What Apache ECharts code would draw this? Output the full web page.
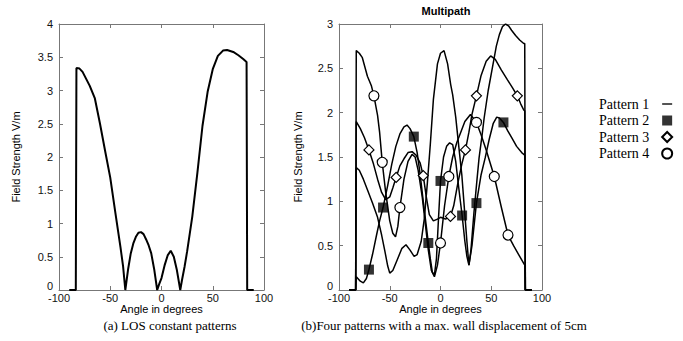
<!DOCTYPE html>
<html>
<head>
<meta charset="utf-8">
<script src="https://cdn.jsdelivr.net/npm/echarts@6/dist/echarts.min.js"></script>
<style>
html,body{margin:0;padding:0;background:#fff;}
#chart{width:683px;height:341px;}
</style>
</head>
<body>
<div id="chart"></div>
<script>
// ---- (a) LOS constant pattern ----
const losAngle = [-90, -83.6, -83, -80, -77, -74, -70, -65, -60, -55, -50, -45, -40, -37.5, -35.3, -32.5, -30, -27.5, -25, -22.5, -20, -17.5, -15, -12.5, -10, -7, -4.2, -2, 0, 3, 6, 9, 12, 15, 18.3, 20, 22.5, 25, 30, 35, 40, 45, 50, 55, 60, 64, 70, 75, 80, 83, 83.6, 90];
const losField = [0, 0, 3.34, 3.33, 3.28, 3.19, 3.07, 2.88, 2.5, 2.09, 1.69, 1.16, 0.64, 0.36, 0, 0.32, 0.55, 0.7, 0.8, 0.86, 0.87, 0.84, 0.76, 0.67, 0.55, 0.3, 0, 0.1, 0.18, 0.37, 0.52, 0.59, 0.5, 0.3, 0, 0.15, 0.35, 0.58, 1.1, 1.76, 2.47, 2.98, 3.32, 3.52, 3.6, 3.61, 3.58, 3.53, 3.47, 3.43, 0, 0];

// ---- (b) Multipath patterns ----
const p1Angle = [-90, -83.6, -83, -80, -76, -72, -67, -62, -58, -55, -52, -50, -47, -43, -38, -34, -30, -26, -23, -19, -16, -13, -10, -7, -3, 0, 3.5, 7, 10, 12, 15, 18, 21, 24, 26, 28, 30, 33, 36, 38, 41, 43, 47, 51, 55, 58, 61, 64, 67, 70, 74, 78, 82, 83, 83.6, 90];
const p1Field = [0, 0, 1.38, 1.35, 1.25, 1.13, 0.98, 0.82, 0.62, 0.45, 0.27, 0.19, 0.22, 0.33, 0.47, 0.51, 0.45, 0.38, 0.4, 0.55, 0.8, 1.2, 1.65, 2.15, 2.55, 2.67, 2.7, 2.55, 2.32, 2.2, 1.95, 1.62, 1.3, 0.85, 0.55, 0.28, 0.45, 0.88, 1.25, 1.49, 1.75, 1.94, 2.25, 2.5, 2.75, 2.88, 2.97, 3.0, 2.98, 2.93, 2.87, 2.82, 2.78, 2.78, 0, 0];

const p2Angle = [-90, -83.6, -83, -79, -76, -73, -70.5, -67, -63, -60, -56.6, -52, -48, -44, -40, -36, -33, -30, -26.3, -23, -20, -17, -14, -12, -10, -8, -6, -4, -2, 0, 3, 6, 9, 12, 15, 18, 21.3, 24, 26, 28, 31, 35.4, 40, 44, 48, 52, 55.4, 58, 62, 66, 70, 75, 80, 83, 83.6, 90];
const p2Field = [0, 0, 0.15, 0.1, 0.08, 0.13, 0.23, 0.4, 0.62, 0.78, 0.93, 1.18, 1.42, 1.62, 1.76, 1.84, 1.86, 1.82, 1.73, 1.55, 1.3, 1.0, 0.72, 0.53, 0.35, 0.2, 0.17, 0.35, 0.8, 1.23, 1.5, 1.62, 1.66, 1.64, 1.45, 1.15, 0.84, 0.55, 0.38, 0.28, 0.5, 0.98, 1.3, 1.49, 1.7, 1.88, 1.95, 1.94, 1.89, 1.8, 1.72, 1.62, 1.55, 1.52, 0, 0];
const p2MarkAngle = [-70.5, -56.6, -26.3, -12, 0, 21.3, 35.4, 62];
const p2MarkField = [0.23, 0.93, 1.73, 0.53, 1.23, 0.84, 0.98, 1.89];

const p3Angle = [-90, -83.6, -83, -79, -75, -70.5, -66, -62, -58, -54, -50, -47, -43.7, -40, -36, -32, -28, -24, -20, -17, -14, -11, -7, -3, 0, 5, 9.8, 13, 17, 21, 24.6, 28, 31, 35.4, 40, 45, 49.4, 54, 60, 66, 71, 75.7, 79, 82, 83, 83.6, 90];
const p3Field = [0, 0, 1.9, 1.82, 1.72, 1.58, 1.42, 1.25, 1.1, 1.02, 1.05, 1.15, 1.27, 1.4, 1.48, 1.55, 1.56, 1.52, 1.43, 1.29, 1.05, 0.85, 0.78, 0.8, 0.82, 0.8, 0.83, 0.95, 1.2, 1.42, 1.58, 1.78, 1.98, 2.19, 2.42, 2.58, 2.64, 2.6, 2.48, 2.37, 2.28, 2.19, 2.1, 2.03, 2.02, 0, 0];
const p3MarkAngle = [-70.5, -43.7, -17, 9.8, 24.6, 35.4, 75.7];
const p3MarkField = [1.58, 1.27, 1.29, 0.83, 1.58, 2.19, 2.19];

const p4Angle = [-90, -83.6, -83, -80, -77, -72, -68, -65.6, -62, -60, -57.4, -54, -50, -47, -44.3, -42, -40, -36, -32, -28, -25, -22, -18, -15, -12, -9, -6, -3, 0, 4, 8.2, 12, 16, 19.7, 24, 29.5, 35.4, 40, 45, 53, 60, 66.5, 72, 77, 82, 83, 83.6, 90];
const p4Field = [0, 0, 2.7, 2.67, 2.62, 2.41, 2.3, 2.19, 1.97, 1.78, 1.44, 1.1, 0.78, 0.64, 0.6, 0.72, 0.93, 1.25, 1.45, 1.53, 1.5, 1.35, 1.05, 0.75, 0.45, 0.22, 0.15, 0.28, 0.53, 0.95, 1.28, 1.5, 1.66, 1.77, 1.9, 1.98, 1.89, 1.75, 1.58, 1.28, 0.93, 0.62, 0.5, 0.4, 0.3, 0.28, 0, 0];
const p4MarkAngle = [-65.6, -57.4, -40, 0, 8.2, 35.4, 53, 66.5];
const p4MarkField = [2.19, 1.44, 0.93, 0.53, 1.28, 1.89, 1.28, 0.62];

const xTicks = {min: -100, max: 100, interval: 50};
const yTicksA = {min: 0, max: 4, interval: 0.5};
const yTicksB = {min: 0, max: 3, interval: 0.5};

const legendNames = ['Pattern 1', 'Pattern 2', 'Pattern 3', 'Pattern 4'];
const axisName = 'Angle in degrees';
const yName = 'Field Strength V/m';

function zip(a, b) { return a.map((v, i) => [v, b[i]]); }

const sans = 'Liberation Sans, Arial, sans-serif';
const serif = 'Liberation Serif, Times New Roman, serif';
const axisColor = '#777';

function xAx(grid, pos, showLabel) {
  return {
    type: 'value', gridIndex: grid, position: pos,
    min: xTicks.min, max: xTicks.max, interval: xTicks.interval,
    axisLine: {show: true, onZero: false, lineStyle: {color: axisColor, width: 1}},
    axisTick: {show: true, inside: true, length: 4, lineStyle: {color: axisColor}},
    axisLabel: {show: showLabel, margin: 2, fontSize: 11, lineHeight: 11, fontFamily: sans, color: '#111'},
    splitLine: {show: false},
    name: showLabel ? axisName : '', nameLocation: 'middle', nameGap: 13, nameMoveOverlap: false,
    nameTextStyle: {fontSize: 11, fontFamily: sans, color: '#000', lineHeight: 11}
  };
}
function yAx(grid, pos, showLabel, t, gap) {
  return {
    type: 'value', gridIndex: grid, position: pos,
    min: t.min, max: t.max, interval: t.interval,
    axisLine: {show: true, onZero: false, lineStyle: {color: axisColor, width: 1}},
    axisTick: {show: true, inside: true, length: 4, lineStyle: {color: axisColor}},
    axisLabel: {show: showLabel, margin: 6, fontSize: 11, fontFamily: sans, color: '#111',
      formatter: v => (v === 0 ? '{z|0}' : String(v)),
      rich: {z: {fontSize: 11, fontFamily: sans, color: '#111', padding: [0, 0, 8, 0]}}},
    splitLine: {show: false},
    name: showLabel ? yName : '', nameLocation: 'middle', nameGap: gap, nameMoveOverlap: false,
    nameTextStyle: {fontSize: 11, fontFamily: sans, color: '#000'}
  };
}

const lineBase = {type: 'line', showSymbol: false, symbol: 'none', smooth: false,
  lineStyle: {color: '#000', width: 1.5}, itemStyle: {color: '#000'}, z: 2, silent: true};

const chart = echarts.init(document.getElementById('chart'), null, {renderer: 'svg'});
chart.setOption({
  animation: false,
  backgroundColor: '#fff',
  title: [
    {text: 'Multipath', left: 441, top: 0, textAlign: 'center',
      textStyle: {fontSize: 11, fontWeight: 'bold', fontFamily: sans, color: '#000'}},
    {text: '(a) LOS constant patterns', left: 170, top: 318, padding: 0, textAlign: 'center',
      textStyle: {fontSize: 13, fontWeight: 'normal', fontFamily: serif, color: '#000', lineHeight: 14}},
    {text: '(b)Four patterns with a max. wall displacement of 5cm', left: 444, top: 318, padding: 0, textAlign: 'center',
      textStyle: {fontSize: 13, fontWeight: 'normal', fontFamily: serif, color: '#000', lineHeight: 14}}
  ],
  legend: {
    orient: 'vertical', left: 594, top: 92, align: 'right',
    itemWidth: 10, itemHeight: 10, itemGap: 2.5,
    textStyle: {fontFamily: serif, fontSize: 14, color: '#000', padding: [0, 8, 0, 0]},
    data: [
      {name: legendNames[0], icon: 'path://M0,0 H12 V1.6 H0 Z'},
      {name: legendNames[1], icon: 'rect'},
      {name: legendNames[2], icon: 'diamond'},
      {name: legendNames[3], icon: 'circle'}
    ],
    selectedMode: false
  },
  grid: [
    {left: 59, top: 24, width: 205, height: 266},
    {left: 339, top: 24, width: 203, height: 266}
  ],
  xAxis: [xAx(0, 'bottom', true), xAx(0, 'top', false), xAx(1, 'bottom', true), xAx(1, 'top', false)],
  yAxis: [yAx(0, 'left', true, yTicksA, 38), yAx(0, 'right', false, yTicksA, 38),
          yAx(1, 'left', true, yTicksB, 36), yAx(1, 'right', false, yTicksB, 36)],
  series: [
    Object.assign({}, lineBase, {name: 'LOS', xAxisIndex: 0, yAxisIndex: 0, data: zip(losAngle, losField), lineStyle: {color: '#000', width: 2}}),
    Object.assign({}, lineBase, {name: legendNames[0], xAxisIndex: 2, yAxisIndex: 2, data: zip(p1Angle, p1Field)}),
    Object.assign({}, lineBase, {name: 'Pattern 2 line', xAxisIndex: 2, yAxisIndex: 2, data: zip(p2Angle, p2Field)}),
    Object.assign({}, lineBase, {name: 'Pattern 3 line', xAxisIndex: 2, yAxisIndex: 2, data: zip(p3Angle, p3Field)}),
    Object.assign({}, lineBase, {name: 'Pattern 4 line', xAxisIndex: 2, yAxisIndex: 2, data: zip(p4Angle, p4Field)}),
    {type: 'scatter', name: legendNames[1], xAxisIndex: 2, yAxisIndex: 2, symbol: 'rect', symbolSize: 10, z: 5,
      itemStyle: {color: '#000', borderColor: '#000', borderWidth: 0}, data: zip(p2MarkAngle, p2MarkField)},
    {type: 'scatter', name: legendNames[2], xAxisIndex: 2, yAxisIndex: 2, symbol: 'diamond', symbolSize: 10, z: 5,
      itemStyle: {color: '#fff', borderColor: '#000', borderWidth: 1.2, opacity: 1}, data: zip(p3MarkAngle, p3MarkField)},
    {type: 'scatter', name: legendNames[3], xAxisIndex: 2, yAxisIndex: 2, symbol: 'circle', symbolSize: 10, z: 5,
      itemStyle: {color: '#fff', borderColor: '#000', borderWidth: 1.2, opacity: 1}, data: zip(p4MarkAngle, p4MarkField)}
  ]
});
</script>
</body>
</html>
